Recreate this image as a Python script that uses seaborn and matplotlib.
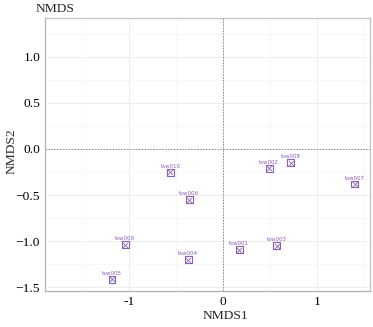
import pandas as pd
import seaborn as sns
import matplotlib.pyplot as plt
from matplotlib.ticker import MultipleLocator

samples = ["tsw001", "tsw002", "tsw003", "tsw004", "tsw005",
           "tsw006", "tsw007", "tsw008", "tsw009", "tsw010"]
nmds1 = [0.17, 0.49, 0.57, -0.37, -1.18, -0.36, 1.40, 0.72, -1.04, -0.56]
nmds2 = [-1.09, -0.21, -1.05, -1.20, -1.41, -0.55, -0.38, -0.15, -1.04, -0.25]

df = pd.DataFrame({"sample": samples, "NMDS1": nmds1, "NMDS2": nmds2})

sns.set_style("whitegrid")
plt.rcParams["font.family"] = ["Liberation Serif", "DejaVu Serif"]
purple = "#8b5fb8"

fig = plt.figure(figsize=(3.73, 3.27), dpi=100)
ax = fig.add_axes([0.121, 0.110, 0.871, 0.835])

ax.axvline(0, color="#888888", lw=0.7, ls=(0, (1.5, 1.5)), zorder=1)
ax.axhline(0, color="#888888", lw=0.7, ls=(0, (1.5, 1.5)), zorder=1)

sns.scatterplot(data=df, x="NMDS1", y="NMDS2", marker="s", s=25,
                facecolor="none", edgecolor=purple, linewidth=0.8, ax=ax, zorder=3)
sns.scatterplot(data=df, x="NMDS1", y="NMDS2", marker="x", s=15,
                color=purple, linewidth=0.6, ax=ax, zorder=3)
for _, r in df.iterrows():
    ax.text(r["NMDS1"], r["NMDS2"] + 0.065, r["sample"], fontsize=4,
            color=purple, ha="center", va="center", family="DejaVu Sans")

ax.set_xlim(-1.89, 1.56)
ax.set_ylim(-1.54, 1.42)
ax.xaxis.set_major_locator(MultipleLocator(1))
ax.xaxis.set_minor_locator(MultipleLocator(0.5))
ax.yaxis.set_major_locator(MultipleLocator(0.5))
ax.yaxis.set_minor_locator(MultipleLocator(0.25))
ax.set_xticks([-1, 0, 1])
ax.set_xticklabels(["-1", "0", "1"])
ax.grid(which="major", color="#ebebeb", lw=0.6)
ax.grid(which="minor", color="#f5f5f5", lw=0.5)

for s in ["top", "right", "left", "bottom"]:
    ax.spines[s].set_color("#c4c4c4")
    ax.spines[s].set_linewidth(0.9)
ax.spines["left"].set_color("#b0b0b0")
ax.spines["bottom"].set_color("#b0b0b0")

ax.tick_params(which="major", length=2, color="#888888", labelsize=9.7,
               labelcolor="black", pad=1.5)
ax.tick_params(which="minor", length=0)
ax.set_xlabel("NMDS1", fontsize=9.7)
ax.set_ylabel("NMDS2", fontsize=9.7)
ax.xaxis.set_label_coords((225 - 45) / 325, -(310 - 291) / 273)
ax.yaxis.set_label_coords(-(45 - 17) / 325, (291 - 151) / 273)
fig.text(36 / 373, 1 - 9.5 / 327, "NMDS", fontsize=9.7, va="center", ha="left")

fig.savefig("out.png", dpi=100)
